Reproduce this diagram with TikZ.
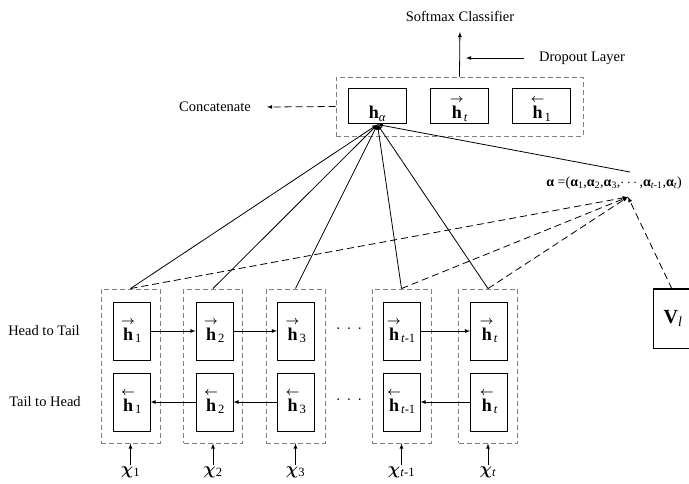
\documentclass[tikz,border=0pt]{standalone}
\usepackage{fontspec}
\setmainfont{Liberation Serif}
\usepackage{amsmath}
\usepackage{tikz}

\newcommand{\fwdh}{\ensuremath{\overset{\scriptstyle\boldsymbol{\rightarrow}}{\textbf{h}}}}
\newcommand{\bwdh}{\ensuremath{\overset{\scriptstyle\boldsymbol{\leftarrow}}{\textbf{h}}}}
\newcommand{\xin}{\ensuremath{\boldsymbol{\chi}}}

\begin{document}
\begin{tikzpicture}[x=1pt, y=-1pt, >=latex, line width=0.8pt,
        font=\fontsize{14.5}{17}\selectfont,
        cell/.style={draw, line width=1pt, minimum width=37pt, minimum height=58pt, inner sep=0pt,
            text height=20pt, text depth=2pt, font=\fontsize{18}{20}\selectfont},
        topcell/.style={draw, line width=1pt, minimum width=58pt, minimum height=35pt, inner sep=0pt,
            text height=25pt, text depth=1pt, font=\fontsize{18}{20}\selectfont},
        group/.style={draw=gray, dash pattern=on 5pt off 3pt, line width=0.9pt, minimum width=59pt, minimum height=154pt, inner sep=0pt},
        conn/.style={dash pattern=on 7pt off 4pt},
        input/.style={font=\fontsize{18}{20}\selectfont, inner sep=1pt}]
        \useasboundingbox (0,0) rectangle (689,484);

        % output layer
        \node[draw=gray, dash pattern=on 5pt off 3pt, line width=0.9pt, minimum width=247pt, minimum height=59pt] at (459.5, 106.5) (top) {};
        \node[topcell] at (377.5, 106.5) (ha) {\textbf{h}\textsubscript{\textit{α}}};
        \node[topcell] at (459, 106.5) (ht) {\fwdh\textsubscript{\textit{t}}};
        \node[topcell] at (541, 106.5) (hf) {\bwdh\textsubscript{1}};

        \node at (460, 16) (soft) {Softmax Classifier};
        \node at (582, 58) (drop) {Dropout Layer};
        \node at (215, 107) (cat) {Concatenate};
        \coordinate (dropend) at (466, 58);
        \coordinate (catend) at (267, 107);

        \draw[->, shorten >=7pt] (top.north) -- (soft.south);
        \draw[->, shorten <=11pt] (drop.west) -- (dropend);
        \draw[->, conn] (top.west) -- (catend);

        % BiLSTM columns
        \node[group] at (130.5, 366) (g1) {};
        \node[group] at (213, 366) (g2) {};
        \node[group] at (295.5, 366) (g3) {};
        \node[group] at (401.5, 366) (g4) {};
        \node[group] at (488, 366) (g5) {};

        \node[cell] at (131.5, 331) (f1) {\fwdh\textsubscript{1}};
        \node[cell] at (214.5, 331) (f2) {\fwdh\textsubscript{2}};
        \node[cell] at (296, 331) (f3) {\fwdh\textsubscript{3}};
        \node[cell] at (401.5, 331) (f4) {\fwdh\textsubscript{\textit{t}-1}};
        \node[cell] at (489, 331) (f5) {\fwdh\textsubscript{\textit{t}}};

        \node[cell] at (131.5, 402) (b1) {\bwdh\textsubscript{1}};
        \node[cell] at (214.5, 402) (b2) {\bwdh\textsubscript{2}};
        \node[cell] at (296, 402) (b3) {\bwdh\textsubscript{3}};
        \node[cell] at (401.5, 402) (b4) {\bwdh\textsubscript{\textit{t}-1}};
        \node[cell] at (489, 402) (b5) {\bwdh\textsubscript{\textit{t}}};

        \node at (349, 331) (dotf) {·\hspace{6pt}·\hspace{6pt}·};
        \node at (349, 402) (dotb) {·\hspace{6pt}·\hspace{6pt}·};

        \node at (44, 331) (htt) {Head to Tail};
        \node at (45, 402) (tth) {Tail to Head};

        \draw[->] (f1) -- (f2);
        \draw[->] (f2) -- (f3);
        \draw[->] (f4) -- (f5);

        \draw[->] (b2) -- (b1);
        \draw[->] (b3) -- (b2);
        \draw[->] (b5) -- (b4);

        % inputs
        \node[input] at (130.5, 472) (x1) {\xin\textsubscript{1}};
        \node[input] at (213, 472) (x2) {\xin\textsubscript{2}};
        \node[input] at (295.5, 472) (x3) {\xin\textsubscript{3}};
        \node[input] at (401.5, 472) (x4) {\xin\textsubscript{\textit{t}-1}};
        \node[input] at (488, 472) (x5) {\xin\textsubscript{\textit{t}}};

        \draw[->] (x1.north) -- (g1.south);
        \draw[->] (x2.north) -- (g2.south);
        \draw[->] (x3.north) -- (g3.south);
        \draw[->] (x4.north) -- (g4.south);
        \draw[->] (x5.north) -- (g5.south);

        % attention
        \node[anchor=west, inner sep=0pt, font=\fontsize{14}{16}\selectfont] at (546, 183) (eq)
            {\textbf{α} =(\textbf{α}\textsubscript{1},\textbf{α}\textsubscript{2},\textbf{α}\textsubscript{3},$\cdots$,\textbf{α}\textsubscript{\textit{t}-1},\textbf{α}\textsubscript{\textit{t}})};
        \coordinate (asol) at (630, 172);
        \coordinate (adash) at (628, 197);

        % right side of this box runs off the page
        \node[draw, line width=1pt, minimum width=80pt, minimum height=59pt, font=\fontsize{20}{22}\selectfont] at (693, 318.5) (vl) {\textbf{V}\textsubscript{\textit{l}}\kern40pt};
        \coordinate (vtop) at (672, 289);

        \draw[->] (g1.north) -- (ha.south);
        \draw[->] (g2.north) -- (ha.south);
        \draw[->] (g3.north) -- (ha.south);
        \draw[->] (g4.north) -- (ha.south);
        \draw[->] (g5.north) -- (ha.south);
        \draw[->] (asol) -- (ha.south);

        \draw[->, conn] (g1.north) -- (adash);
        \draw[->, conn] (g4.north) -- (adash);
        \draw[->, conn] (g5.north) -- (adash);
        \draw[->, conn] (vtop) -- (adash);
    \end{tikzpicture}
\end{document}
